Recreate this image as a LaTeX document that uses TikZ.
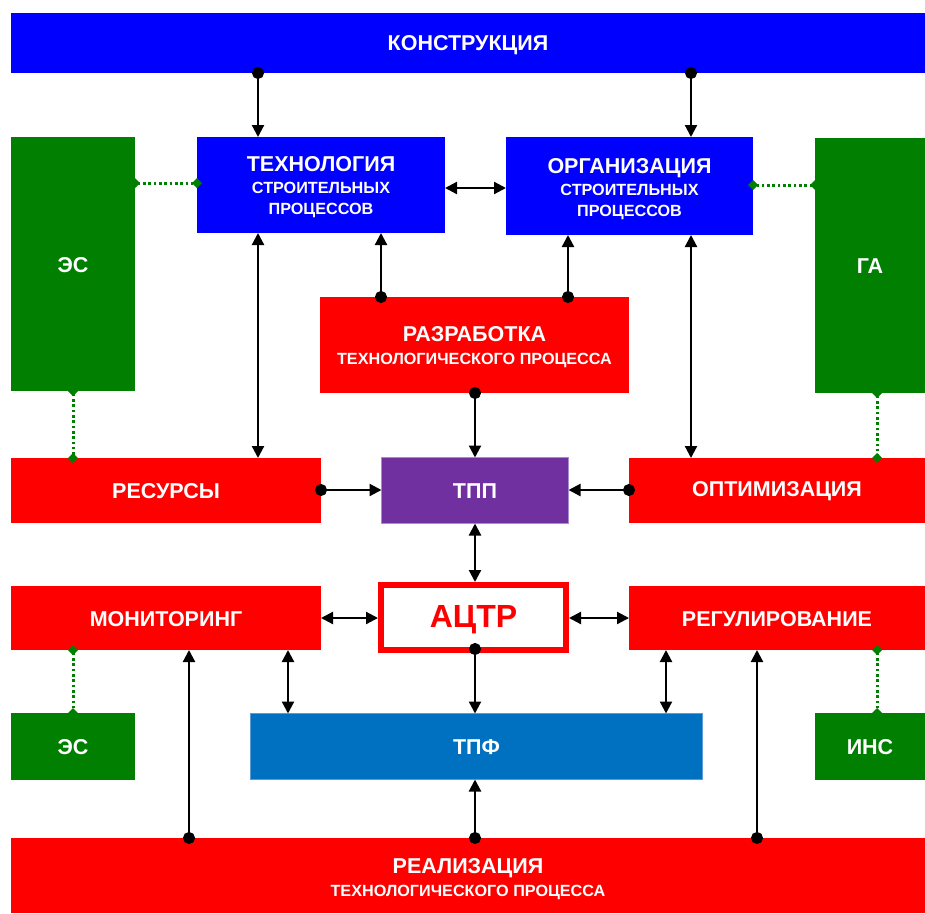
\documentclass[tikz,border=0pt]{standalone}
\usepackage{fontspec}
\setmainfont{Liberation Sans}
\usetikzlibrary{arrows.meta}

\definecolor{cblue}{HTML}{0000FF}
\definecolor{cgreen}{HTML}{007F00}
\definecolor{cred}{HTML}{FF0000}
\definecolor{cpurple}{HTML}{7030A0}
\definecolor{cpurpleedge}{HTML}{A98BD0}
\definecolor{csteel}{HTML}{0070C0}
\definecolor{csteeledge}{HTML}{5B9BD5}

\newcommand\fsTitle{\fontsize{21.5}{23}\selectfont}
\newcommand\fsSub{\fontsize{16.2}{19}\selectfont}

\tikzset{
  box/.style={rectangle, anchor=north west, inner sep=0pt, outer sep=0pt},
  lbl/.style={inner sep=0pt, outer sep=0pt, text=white, font=\bfseries\fsTitle, align=center},
  conn/.style={line width=2.2pt, draw=black},
  twoway/.style={conn, {Triangle[length=12pt,width=12pt]}-{Triangle[length=12pt,width=12pt]}},
  dotarrow/.style={conn, {Circle[length=12pt]}-{Triangle[length=12pt,width=12pt]}, shorten <=-6pt},
  greenlink/.style={line width=3pt, draw=cgreen, dash pattern=on 2.6pt off 2.7pt,
    {Diamond[length=10pt,width=10pt]}-{Diamond[length=10pt,width=10pt]},
    shorten <=-5pt, shorten >=-5pt},
}

\begin{document}
\begin{tikzpicture}[x=1pt, y=-1pt]
\useasboundingbox (0,0) rectangle (925,913);

% upper level
\node[box, fill=cblue, minimum width=914pt, minimum height=60pt] (constr) at (11,13) {};
\node[box, fill=cblue, minimum width=248pt, minimum height=96pt] (tech) at (197,137) {};
\node[box, fill=cblue, minimum width=247pt, minimum height=98pt] (org) at (506,137) {};
\node[box, fill=cgreen, minimum width=124pt, minimum height=254pt] (es1) at (11,137) {};
\node[box, fill=cgreen, minimum width=110pt, minimum height=255pt] (ga) at (815,138) {};
\node[box, fill=cred, minimum width=309pt, minimum height=96pt] (razr) at (320,297) {};

% middle level
\node[box, fill=cred, minimum width=310pt, minimum height=65pt] (res) at (11,458) {};
\node[box, fill=cpurple, draw=cpurpleedge, line width=1pt, minimum width=187pt, minimum height=66pt] (tpp) at (381.5,457.5) {};
\node[box, fill=cred, minimum width=296pt, minimum height=65pt] (opt) at (629,458) {};
\node[box, fill=cred, minimum width=310pt, minimum height=64pt] (mon) at (11,586) {};
\node[box, fill=white, draw=cred, line width=6pt, outer sep=3pt, minimum width=185pt, minimum height=65pt] (actr) at (378,582) {};
\node[box, fill=cred, minimum width=296pt, minimum height=64pt] (reg) at (629,586) {};

% lower level
\node[box, fill=cgreen, minimum width=124pt, minimum height=67pt] (es2) at (11,713) {};
\node[box, fill=csteel, draw=csteeledge, line width=1pt, minimum width=452pt, minimum height=66pt] (tpf) at (250.5,713.5) {};
\node[box, fill=cgreen, minimum width=110pt, minimum height=67pt] (ins) at (815,713) {};
\node[box, fill=cred, minimum width=914pt, minimum height=75pt] (real) at (11,838) {};

% box captions
\node[lbl] (constrT) at ([yshift=-2pt]constr.center) {КОНСТРУКЦИЯ};
\node[lbl] (techT) at ([yshift=-2pt]tech.center)
  {ТЕХНОЛОГИЯ\\[-1pt]\fsSub СТРОИТЕЛЬНЫХ\\[-2pt]\fsSub ПРОЦЕССОВ};
\node[lbl] (orgT) at ([yshift=-3pt]org.center)
  {ОРГАНИЗАЦИЯ\\[-1pt]\fsSub СТРОИТЕЛЬНЫХ\\[-2pt]\fsSub ПРОЦЕССОВ};
\node[lbl] (es1T) at ([yshift=-1pt]es1.center) {ЭС};
\node[lbl] (gaT) at ([yshift=-1pt]ga.center) {ГА};
\node[lbl] (razrT) at ([yshift=-2.5pt]razr.center) {РАЗРАБОТКА\\\fsSub ТЕХНОЛОГИЧЕСКОГО ПРОЦЕССА};
\node[lbl] (resT) at ([yshift=-1pt]res.center) {РЕСУРСЫ};
\node[lbl] (tppT) at ([yshift=-1pt]tpp.center) {ТПП};
\node[lbl] (optT) at ([yshift=-1pt]opt.center) {ОПТИМИЗАЦИЯ};
\node[lbl] (monT) at ([yshift=-1pt]mon.center) {МОНИТОРИНГ};
\node[lbl, text=cred, font=\bfseries\fontsize{32}{34}\selectfont] (actrT) at ([yshift=-2pt]actr.center) {АЦТР};
\node[lbl] (regT) at ([yshift=-1pt]reg.center) {РЕГУЛИРОВАНИЕ};
\node[lbl] (es2T) at ([yshift=-1pt]es2.center) {ЭС};
\node[lbl] (tpfT) at ([yshift=-1pt]tpf.center) {ТПФ};
\node[lbl] (insT) at ([yshift=-1pt]ins.center) {ИНС};
\node[lbl] (realT) at ([yshift=-3.5pt]real.center) {РЕАЛИЗАЦИЯ\\\fsSub ТЕХНОЛОГИЧЕСКОГО ПРОЦЕССА};

% guide lines for the connectors
\coordinate (xa) at (258,0);
\coordinate (xb) at (691,0);
\coordinate (xc) at (381,0);
\coordinate (xd) at (568,0);
\coordinate (xe) at (475,0);
\coordinate (xf) at (73,0);
\coordinate (xg) at (877,0);
\coordinate (xh) at (288,0);
\coordinate (xi) at (666,0);
\coordinate (xj) at (189,0);
\coordinate (xk) at (757,0);
\coordinate (ya) at (0,188);
\coordinate (yb) at (0,183);
\coordinate (yc) at (0,185);
\coordinate (yd) at (0,490);
\coordinate (ye) at (0,618);

% connectors
\draw[dotarrow] (constr.south -| xa) -- (tech.north -| xa);
\draw[dotarrow] (constr.south -| xb) -- (org.north -| xb);
\draw[twoway] (tech.east |- ya) -- (org.west |- ya);
\draw[greenlink] (es1.east |- yb) -- (tech.west |- yb);
\draw[greenlink] (ga.west |- yc) -- (org.east |- yc);
\draw[twoway] (tech.south -| xa) -- (res.north -| xa);
\draw[dotarrow] (razr.north -| xc) -- (tech.south -| xc);
\draw[dotarrow] (razr.north -| xd) -- (org.south -| xd);
\draw[twoway] (org.south -| xb) -- (opt.north -| xb);
\draw[dotarrow] (razr.south -| xe) -- (tpp.north -| xe);
\draw[greenlink] (es1.south -| xf) -- (res.north -| xf);
\draw[greenlink] (ga.south -| xg) -- (opt.north -| xg);
\draw[dotarrow] (res.east |- yd) -- (tpp.west |- yd);
\draw[dotarrow] (opt.west |- yd) -- (tpp.east |- yd);
\draw[twoway] (tpp.south -| xe) -- (actr.north -| xe);
\draw[twoway] (mon.east |- ye) -- (actr.west |- ye);
\draw[twoway] (actr.east |- ye) -- (reg.west |- ye);
\draw[dotarrow, shorten <=-10pt] (actr.south -| xe) -- (tpf.north -| xe);
\draw[twoway] (mon.south -| xh) -- (tpf.north -| xh);
\draw[twoway] (reg.south -| xi) -- (tpf.north -| xi);
\draw[dotarrow] (real.north -| xj) -- (mon.south -| xj);
\draw[dotarrow] (real.north -| xe) -- (tpf.south -| xe);
\draw[dotarrow] (real.north -| xk) -- (reg.south -| xk);
\draw[greenlink] (mon.south -| xf) -- (es2.north -| xf);
\draw[greenlink] (reg.south -| xg) -- (ins.north -| xg);
\end{tikzpicture}
\end{document}
